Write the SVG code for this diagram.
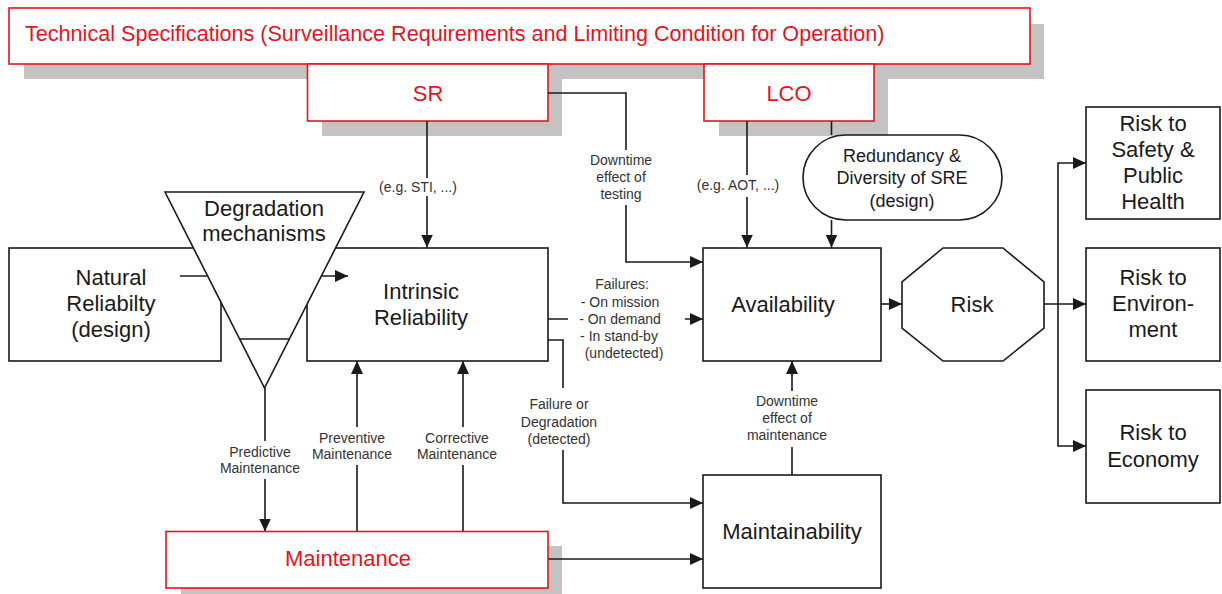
<svg xmlns="http://www.w3.org/2000/svg" width="1222" height="594" viewBox="0 0 1222 594">
<defs>
<style>
.box{fill:#fff;stroke:#1a1a1a;stroke-width:1.6}
.rbox{fill:#fff;stroke:#e4141c;stroke-width:1.6}
.shadow{fill:#c3c3c3}
.t{font-family:"Liberation Sans",Arial,sans-serif;font-size:22px;fill:#1a1a1a;text-anchor:middle}
.rt{font-family:"Liberation Sans",Arial,sans-serif;font-size:22px;fill:#e4141c;text-anchor:middle}
.s{font-family:"Liberation Sans",Arial,sans-serif;font-size:14px;fill:#333;text-anchor:middle}
.c{fill:none;stroke:#1a1a1a;stroke-width:1.6}
</style>
<marker id="ah" viewBox="0 0 13 12" refX="13" refY="6" markerWidth="13" markerHeight="12" markerUnits="userSpaceOnUse" orient="auto">
<path d="M0,0 L13,6 L0,12 Z" fill="#1a1a1a"/>
</marker>
</defs>
<rect width="1222" height="594" fill="#fff"/>

<g id="shadows">
<rect class="shadow" x="24" y="24" width="1020" height="55"/>
<rect class="shadow" x="322" y="79" width="240" height="57"/>
<rect class="shadow" x="719" y="79" width="169" height="57"/>
<rect class="shadow" x="181" y="546" width="381" height="48"/>
</g>

<g id="techspec">
<rect class="rbox" x="9" y="8" width="1021" height="56"/>
<text class="rt" x="25" y="41" style="text-anchor:start;font-size:21.6px">Technical Specifications (Surveillance Requirements and Limiting Condition for Operation)</text>
</g>
<g id="sr">
<rect class="rbox" x="307.5" y="64" width="240.5" height="57"/>
<text class="rt" x="428" y="101">SR</text>
</g>
<g id="lco">
<rect class="rbox" x="704" y="64" width="170" height="57"/>
<text class="rt" x="789" y="101">LCO</text>
</g>

<g id="natural">
<rect class="box" x="9" y="248" width="212" height="113"/>
<text class="t" x="111" y="285">Natural</text>
<text class="t" x="111" y="311">Reliabilty</text>
<text class="t" x="111" y="337">(design)</text>
</g>
<g id="intrinsic">
<rect class="box" x="307" y="248" width="241" height="113"/>
<text class="t" x="421" y="299">Intrinsic</text>
<text class="t" x="421" y="325">Reliability</text>
</g>

<g id="connectors">
<path class="c" d="M180,276 H348" marker-end="url(#ah)"/>
<path class="c" d="M427,121 V178 M427,196 V247.5" marker-end="url(#ah)"/>
<path class="c" d="M548,93 H626 V150 M626,205 V262 H703" marker-end="url(#ah)"/>
<path class="c" d="M747,121 V175 M747,197 V247.5" marker-end="url(#ah)"/>
<path class="c" d="M831.5,121 V135"/>
<path class="c" d="M831.5,220 V247.5" marker-end="url(#ah)"/>
<path class="c" d="M548,319 H568 M685,319 H703" marker-end="url(#ah)"/>
<path class="c" d="M548,340 H563 V388 M563,450 V503 H703" marker-end="url(#ah)"/>
<path class="c" d="M548,559 H703" marker-end="url(#ah)"/>
<path class="c" d="M792,475 V447 M792,391 V361" marker-end="url(#ah)"/>
<path class="c" d="M265,388 V441 M265,479 V531.5" marker-end="url(#ah)"/>
<path class="c" d="M357,531.5 V465 M357,427 V361" marker-end="url(#ah)"/>
<path class="c" d="M463,531.5 V465 M463,427 V361" marker-end="url(#ah)"/>
<path class="c" d="M881,304 H902" marker-end="url(#ah)"/>
<path class="c" d="M1044,304 H1086" marker-end="url(#ah)"/>
<path class="c" d="M1058,304 V163 H1086" marker-end="url(#ah)"/>
<path class="c" d="M1058,304 V446 H1086" marker-end="url(#ah)"/>
</g>

<g id="degradation">
<polygon class="box" points="165,192 364,192 264.5,388"/>
<line class="c" x1="239.5" y1="339" x2="289.5" y2="339"/>
<text class="t" x="264" y="216">Degradation</text>
<text class="t" x="264" y="241">mechanisms</text>
</g>

<g id="redundancy">
<rect class="box" x="803" y="135" width="199" height="85" rx="42.5" ry="42.5"/>
<text class="t" x="902" y="162" style="font-size:18px">Redundancy &amp;</text>
<text class="t" x="902" y="184" style="font-size:18px">Diversity of SRE</text>
<text class="t" x="902" y="207" style="font-size:18px">(design)</text>
</g>

<g id="availability">
<rect class="box" x="703" y="248" width="178" height="113"/>
<text class="t" x="783" y="312">Availability</text>
</g>

<g id="maintainability">
<rect class="box" x="703" y="475" width="178" height="113"/>
<text class="t" x="792" y="539">Maintainability</text>
</g>

<g id="maintenance">
<rect class="rbox" x="166" y="531.5" width="382" height="56.5"/>
<text class="rt" x="348" y="566">Maintenance</text>
</g>

<g id="risk">
<polygon class="box" points="943,248 1003,248 1044,282 1044,328 1003,361 943,361 902,328 902,282"/>
<text class="t" x="972" y="312">Risk</text>
</g>

<g id="risk-safety">
<rect class="box" x="1086" y="107" width="134" height="112"/>
<text class="t" x="1153" y="131">Risk to</text>
<text class="t" x="1153" y="157">Safety &amp;</text>
<text class="t" x="1153" y="183">Public</text>
<text class="t" x="1153" y="209">Health</text>
</g>
<g id="risk-environment">
<rect class="box" x="1086" y="248" width="134" height="113"/>
<text class="t" x="1153" y="285">Risk to</text>
<text class="t" x="1153" y="311">Environ-</text>
<text class="t" x="1153" y="337">ment</text>
</g>
<g id="risk-economy">
<rect class="box" x="1086" y="390" width="134" height="113"/>
<text class="t" x="1153" y="440">Risk to</text>
<text class="t" x="1153" y="467">Economy</text>
</g>

<g id="labels">
<text class="s" x="418" y="192">(e.g. STI, ...)</text>
<text class="s" x="621" y="165">Downtime</text>
<text class="s" x="621" y="182">effect of</text>
<text class="s" x="621" y="199">testing</text>
<text class="s" x="738" y="190">(e.g. AOT, ...)</text>
<text class="s" x="622" y="289">Failures:</text>
<text class="s" x="620" y="307">- On mission</text>
<text class="s" x="620" y="324">- On demand</text>
<text class="s" x="619" y="341">- In stand-by</text>
<text class="s" x="624" y="358">(undetected)</text>
<text class="s" x="559" y="409">Failure or</text>
<text class="s" x="559" y="427">Degradation</text>
<text class="s" x="559" y="444">(detected)</text>
<text class="s" x="260" y="457">Predictive</text>
<text class="s" x="260" y="473">Maintenance</text>
<text class="s" x="352" y="443">Preventive</text>
<text class="s" x="352" y="459">Maintenance</text>
<text class="s" x="457" y="443">Corrective</text>
<text class="s" x="457" y="459">Maintenance</text>
<text class="s" x="787" y="406">Downtime</text>
<text class="s" x="787" y="423">effect of</text>
<text class="s" x="787" y="440">maintenance</text>
</g>
</svg>
